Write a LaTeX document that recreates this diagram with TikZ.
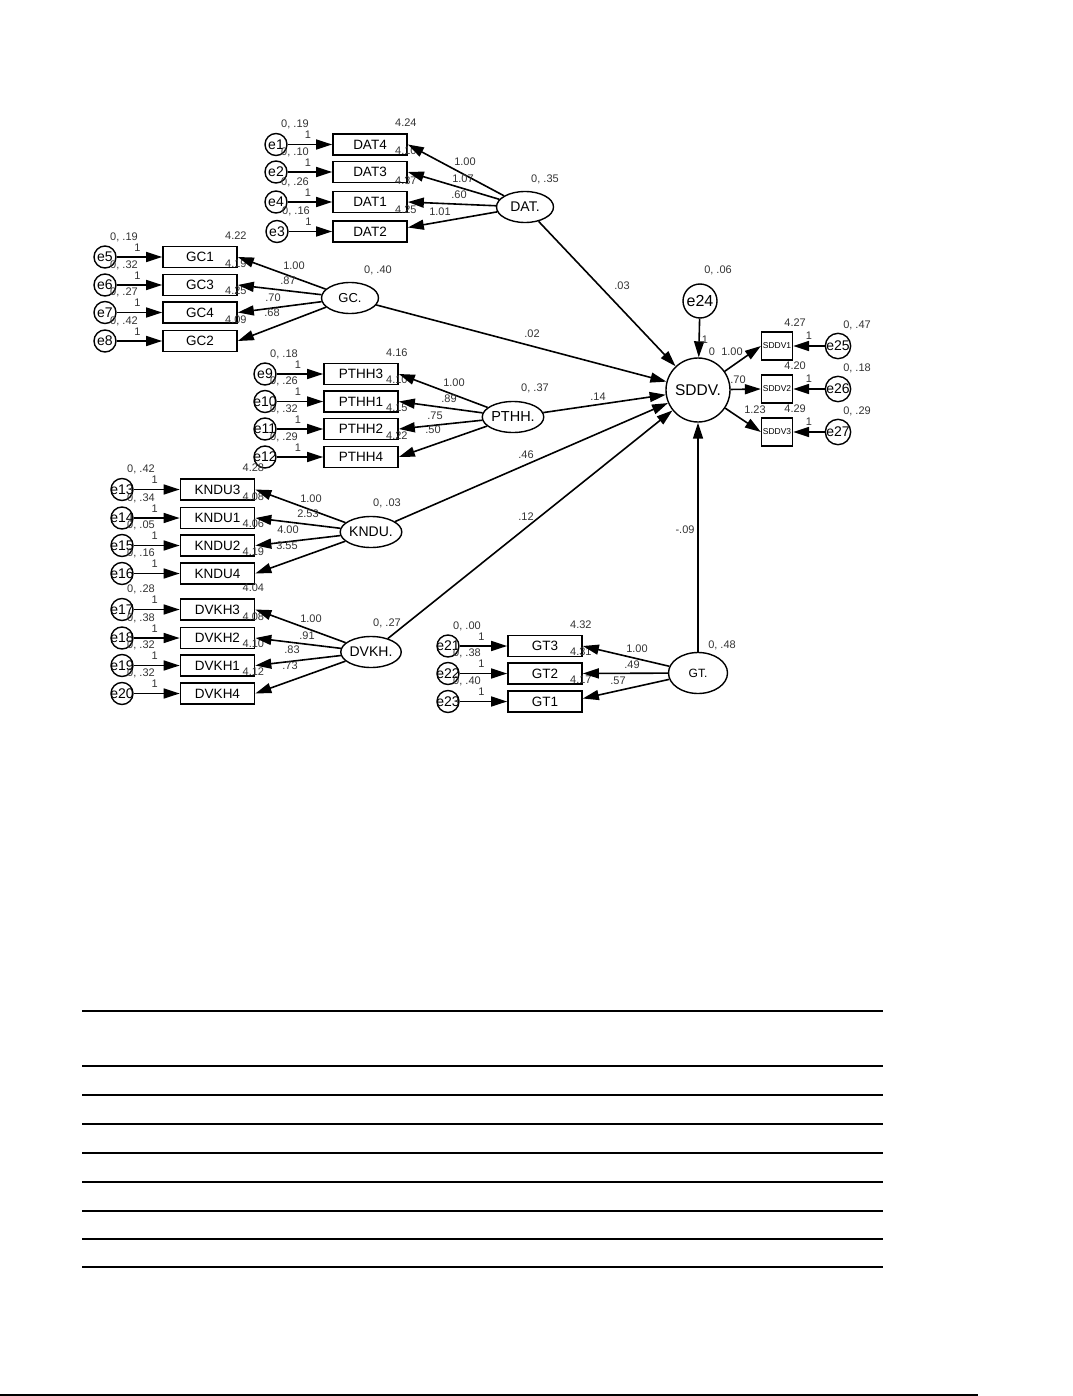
\documentclass[tikz,border=0pt]{standalone}
\usepackage{fontspec}
\setmainfont{Liberation Sans}
\usetikzlibrary{arrows.meta,shapes.geometric}
\newcommand{\fsz}[1]{\fontsize{#1}{#1}\selectfont}
\tikzset{
  obs/.style={draw, line width=1.7pt, minimum width=74pt, minimum height=21pt, inner sep=0pt, font=\fsz{13.5}},
  sobs/.style={draw, line width=1.3pt, minimum width=31pt, minimum height=28pt, inner sep=0pt, font=\fsz{8.5}},
  err/.style={draw, circle, line width=1.4pt, minimum size=22pt, inner sep=0pt, font=\fsz{14}},
  lat/.style={draw, ellipse, line width=1.4pt, minimum width=57pt, minimum height=31pt, inner sep=0pt, font=\fsz{14}},
  lab/.style={inner sep=0pt, font=\fsz{11}, text=black!80},
  arr/.style={-{Triangle[length=16pt,width=10pt]}, line width=1.6pt},
  rule/.style={line width=1.4pt},
}
\newcommand{\indrow}[7]{%
  \node[obs] (#1) at (#2,#3) {#1};
  \node[err] (#4) at (#5,#3) {\makebox[0pt]{#4}};
  \draw[arr] (#4) -- (#1) node[lab, midway, above=5pt, xshift=-2pt] (o#4) {1};
  \node[lab] (m#1) at ([xshift=-2pt,yshift=10pt]#1.north east) {#6};
  \node[lab] (v#4) at ([xshift=19pt,yshift=20pt]#4.center) {#7};
}
\begin{document}
\begin{tikzpicture}[x=1pt,y=-1pt]
\useasboundingbox (0,0) rectangle (1072,1396);

% ---------- DAT ----------
\indrow{DAT4}{370}{144.5}{e1}{276}{4.24}{0, .19}
\indrow{DAT3}{370}{172}{e2}{276}{4.10}{0, .10}
\indrow{DAT1}{370}{202}{e4}{276}{4.37}{0, .26}
\indrow{DAT2}{370}{231.5}{e3}{277}{4.25}{0, .16}
\node[lat] (DAT) at (525,207) {DAT.};
\node[lab] (vDAT) at (545,179) {0, .35};
\draw[arr] (DAT) -- (DAT4.east);
\draw[arr] (DAT) -- (DAT3.east);
\draw[arr] (DAT) -- (DAT1.east);
\draw[arr] (DAT) -- ([yshift=4pt]DAT2.east);
\node[lab] (l1) at (465,162) {1.00};
\node[lab] (l2) at (463,179) {1.07};
\node[lab] (l3) at (459,195) {.60};
\node[lab] (l4) at (440,212) {1.01};

% ---------- GC ----------
\indrow{GC1}{200}{257}{e5}{105}{4.22}{0, .19}
\indrow{GC3}{200}{285}{e6}{105}{4.19}{0, .32}
\indrow{GC4}{200}{312.5}{e7}{105}{4.25}{0, .27}
\indrow{GC2}{200}{341}{e8}{105}{4.09}{0, .42}
\node[lat, font=\fsz{13}] (GC) at (350,298) {GC.};
\node[lab] (vGC) at (378,270) {0, .40};
\draw[arr] (GC) -- (GC1.east);
\draw[arr] (GC) -- (GC3.east);
\draw[arr] (GC) -- (GC4.east);
\draw[arr] (GC) -- (GC2.east);
\node[lab] (l5) at (294,266) {1.00};
\node[lab] (l6) at (288,281) {.87};
\node[lab] (l7) at (273,298) {.70};
\node[lab] (l8) at (272,313) {.68};

% ---------- PTHH ----------
\indrow{PTHH3}{361}{374}{e9}{265}{4.16}{0, .18}
\indrow{PTHH1}{361}{401.5}{e10}{265}{4.10}{0, .26}
\indrow{PTHH2}{361}{429}{e11}{265}{4.15}{0, .32}
\indrow{PTHH4}{361}{457}{e12}{265}{4.22}{0, .29}
\node[lat, font=\fsz{14.5}] (PTHH) at (513,417) {PTHH.};
\node[lab] (vPTHH) at (535,388) {0, .37};
\draw[arr] (PTHH) -- (PTHH3.east);
\draw[arr] (PTHH) -- (PTHH1.east);
\draw[arr] (PTHH) -- (PTHH2.east);
\draw[arr] (PTHH) -- (PTHH4.east);
\node[lab] (l9) at (454,383) {1.00};
\node[lab] (l10) at (449,399) {.89};
\node[lab] (l11) at (435,416) {.75};
\node[lab] (l12) at (433,430) {.50};

% ---------- KNDU ----------
\indrow{KNDU3}{217.5}{489.5}{e13}{122}{4.28}{0, .42}
\indrow{KNDU1}{217.5}{518}{e14}{122}{4.08}{0, .34}
\indrow{KNDU2}{217.5}{545.5}{e15}{122}{4.06}{0, .05}
\indrow{KNDU4}{217.5}{573.5}{e16}{122}{4.19}{0, .16}
\node[lat] (KNDU) at (371,532) {KNDU.};
\node[lab] (vKNDU) at (387,503) {0, .03};
\draw[arr] (KNDU) -- (KNDU3.east);
\draw[arr] (KNDU) -- (KNDU1.east);
\draw[arr] (KNDU) -- (KNDU2.east);
\draw[arr] (KNDU) -- (KNDU4.east);
\node[lab] (l13) at (311,499) {1.00};
\node[lab] (l14) at (308,514) {2.53};
\node[lab] (l15) at (288,530) {4.00};
\node[lab] (l16) at (287,546) {3.55};

% ---------- DVKH ----------
\indrow{DVKH3}{217.5}{609.5}{e17}{122}{4.04}{0, .28}
\indrow{DVKH2}{217.5}{638}{e18}{122}{4.08}{0, .38}
\indrow{DVKH1}{217.5}{665.5}{e19}{122}{4.10}{0, .32}
\indrow{DVKH4}{217.5}{693.5}{e20}{122}{4.12}{0, .32}
\node[lat] (DVKH) at (371,652) {DVKH.};
\node[lab] (vDVKH) at (387,623) {0, .27};
\draw[arr] (DVKH) -- (DVKH3.east);
\draw[arr] (DVKH) -- (DVKH2.east);
\draw[arr] (DVKH) -- (DVKH1.east);
\draw[arr] (DVKH) -- (DVKH4.east);
\node[lab] (l17) at (311,619) {1.00};
\node[lab] (l18) at (307,636) {.91};
\node[lab] (l19) at (292,650) {.83};
\node[lab] (l20) at (290,666) {.73};

% ---------- GT ----------
\indrow{GT3}{545}{646}{e21}{448}{4.32}{0, .00}
\indrow{GT2}{545}{673.5}{e22}{448}{4.31}{0, .38}
\indrow{GT1}{545}{701.5}{e23}{448}{4.17}{0, .40}
\node[lat, minimum width=59pt, minimum height=41pt, font=\fsz{12}] (GT) at (698,673) {GT.};
\node[lab] (vGT) at (722,645) {0, .48};
\draw[arr] (GT) -- (GT3.east);
\draw[arr] (GT) -- (GT2.east);
\draw[arr] (GT) -- ([yshift=3pt]GT1.east);
\node[lab] (l21) at (637,649) {1.00};
\node[lab] (l22) at (632,665) {.49};
\node[lab] (l23) at (618,681) {.57};

% ---------- SDDV ----------
\node[lat, circle, minimum size=64pt, font=\fsz{15.5}] (SDDV) at (698,390) {SDDV.};
\node[err, minimum size=34pt, font=\fsz{16}] (e24) at (700,301) {e24};
\node[lab] (ve24) at (718,270) {0, .06};
\draw[arr] (e24) -- (SDDV) node[lab, pos=0.55, right=2pt] (oe24) {1};

\foreach \b/\e/\y/\m/\v in {SDDV1/e25/346/4.27/{0, .47}, SDDV2/e26/389/4.20/{0, .18}, SDDV3/e27/432/4.29/{0, .29}}{
  \node[sobs] (\b) at (777,\y) {\b};
  \node[err, minimum size=24pt, font=\fsz{14}] (\e) at (838,\y) {\e};
  \draw[arr] (\e) -- (\b) node[lab, midway, above=6pt] (o\e) {1};
  \node[lab] (m\b) at ([xshift=2pt,yshift=9pt]\b.north east) {\m};
  \node[lab] (v\e) at ([xshift=19pt,yshift=21pt]\e.center) {\v};
  \draw[arr] (SDDV) -- (\b.west);
}
\node[lab] (s0) at (712,352) {0};
\node[lab] (s1) at (732,352) {1.00};
\node[lab] (s2) at (738,380) {.70};
\node[lab] (s3) at (755,410) {1.23};

% ---------- structural paths ----------
\draw[arr] (DAT) -- (SDDV);
\draw[arr] (GC) -- (SDDV);
\draw[arr] (PTHH) -- (SDDV);
\draw[arr] (KNDU) -- (SDDV);
\draw[arr] (DVKH) -- (SDDV);
\draw[arr] (GT) -- (SDDV);
\node[lab] (p1) at (622,286) {.03};
\node[lab] (p2) at (532,334) {.02};
\node[lab] (p3) at (598,397) {.14};
\node[lab] (p4) at (526,455) {.46};
\node[lab] (p5) at (526,517) {.12};
\node[lab] (p6) at (685,530) {-.09};

% ---------- table rules ----------
\foreach \yy in {1011,1066,1095,1124,1153,1182,1211,1239,1267}
  \draw[rule] (82,\yy) -- (883,\yy);
\draw[rule, line width=1.7pt] (0,1395) -- (978,1395);
\end{tikzpicture}
\end{document}
